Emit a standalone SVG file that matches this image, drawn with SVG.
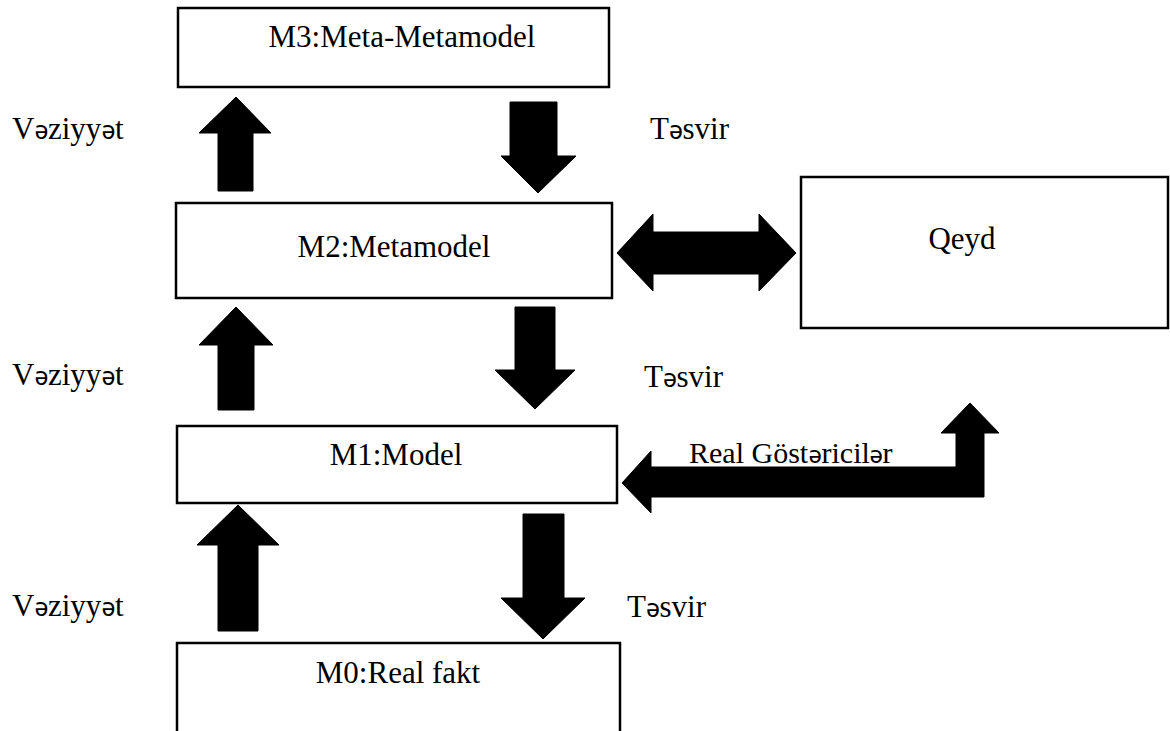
<svg xmlns="http://www.w3.org/2000/svg" width="1170" height="731" viewBox="0 0 1170 731">
<style>
.box{fill:#fff;stroke:#000;stroke-width:2.5}
.t{font-family:"Liberation Serif","Times New Roman",serif;font-size:31px;fill:#000}
.c{text-anchor:middle}
.s{font-family:"Noto Sans","DejaVu Sans",sans-serif;font-size:25px}
.arr{fill:#000;stroke:#000;stroke-width:1;stroke-linejoin:round}
</style>
<rect width="1170" height="731" fill="#fff"/>
<g id="m3"><rect class="box" x="178" y="8" width="431" height="79"/><text class="t c" x="402" y="47">M3:Meta-Metamodel</text></g>
<g id="m2"><rect class="box" x="176" y="203" width="436" height="95"/><text class="t c" x="394" y="257">M2:Metamodel</text></g>
<g id="qeyd"><rect class="box" x="801" y="177" width="367" height="151"/><text class="t c" x="962" y="249">Qeyd</text></g>
<g id="m1"><rect class="box" x="177" y="426" width="440" height="77"/><text class="t c" x="396" y="465">M1:Model</text></g>
<g id="m0"><rect class="box" x="177" y="643" width="443" height="90"/><text class="t c" x="398" y="683">M0:Real fakt</text></g>
<g id="connectors">
<polygon class="arr" points="236,97 271,133 253,133 253,191 218,191 218,133 199,133"/>
<polygon class="arr" points="510,102 557,102 557,156 576,156 538,193 501,156 510,156"/>
<polygon class="arr" points="236,307 273,345 254,345 254,410 218,410 218,345 199,345"/>
<polygon class="arr" points="515,307 555,307 555,370 575,370 535,409 495,370 515,370"/>
<polygon class="arr" points="238,505 279,545 258,545 258,631 218,631 218,545 197,545"/>
<polygon class="arr" points="523,514 564,514 564,598 585,598 543,639 501,598 523,598"/>
<polygon class="arr" points="617,253 653,214 653,232 759,232 759,214 796,253 759,291 759,274 653,274 653,291"/>
<polygon class="arr" points="622,483 651,451 651,467 956,467 956,433 941,433 970,403 999,433 984,433 984,497 651,497 651,513"/>
</g>
<g id="labels">
<text class="t" y="139"><tspan x="12">V</tspan><tspan class="s" x="34.5">ə</tspan><tspan x="48">ziyy</tspan><tspan class="s" x="101.5">ə</tspan><tspan x="115">t</tspan></text>
<text class="t" y="139"><tspan x="650">T</tspan><tspan class="s" x="669">ə</tspan><tspan x="682.5">svir</tspan></text>
<text class="t" y="385"><tspan x="12">V</tspan><tspan class="s" x="34.5">ə</tspan><tspan x="48">ziyy</tspan><tspan class="s" x="101.5">ə</tspan><tspan x="115">t</tspan></text>
<text class="t" y="387"><tspan x="644">T</tspan><tspan class="s" x="663">ə</tspan><tspan x="676.5">svir</tspan></text>
<text class="t" y="616"><tspan x="12">V</tspan><tspan class="s" x="34.5">ə</tspan><tspan x="48">ziyy</tspan><tspan class="s" x="101.5">ə</tspan><tspan x="115">t</tspan></text>
<text class="t" y="617"><tspan x="627">T</tspan><tspan class="s" x="646">ə</tspan><tspan x="659.5">svir</tspan></text>
<text class="t" y="463" style="font-size:30px"><tspan x="689">Real Göst</tspan><tspan class="s" style="font-size:24px" x="808.5">ə</tspan><tspan x="821.5">ricil</tspan><tspan class="s" style="font-size:24px" x="869.5">ə</tspan><tspan x="882.5">r</tspan></text>
</g>
</svg>
